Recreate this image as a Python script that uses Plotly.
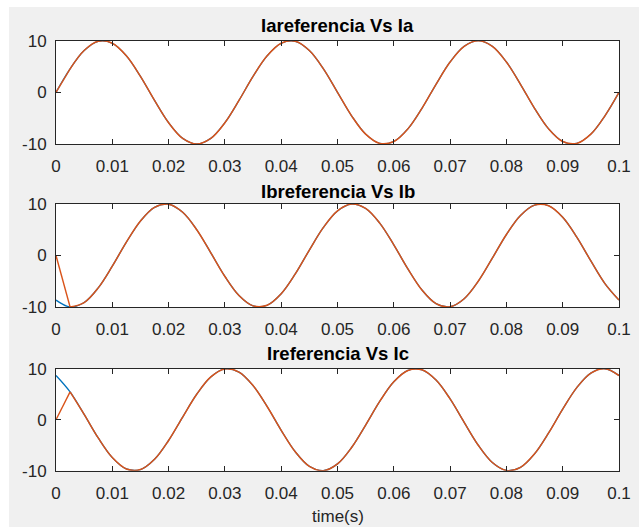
import plotly.graph_objects as go
from plotly.subplots import make_subplots

# Sample instants (s)
t = [0.0, 0.0025, 0.005, 0.0075, 0.01, 0.0125, 0.015, 0.0175, 0.02, 0.0225,
     0.025, 0.0275, 0.03, 0.0325, 0.035, 0.0375, 0.04, 0.0425, 0.045, 0.0475,
     0.05, 0.0525, 0.055, 0.0575, 0.06, 0.0625, 0.065, 0.0675, 0.07, 0.0725,
     0.075, 0.0775, 0.08, 0.0825, 0.085, 0.0875, 0.09, 0.0925, 0.095, 0.0975,
     0.1]

# Reference currents (A)
ia_ref = [0.00, 4.54, 8.09, 9.88, 9.51, 7.07, 3.09, -1.56, -5.88, -8.91,
          -10.00, -8.91, -5.88, -1.56, 3.09, 7.07, 9.51, 9.88, 8.09, 4.54,
          0.00, -4.54, -8.09, -9.88, -9.51, -7.07, -3.09, 1.56, 5.88, 8.91,
          10.00, 8.91, 5.88, 1.56, -3.09, -7.07, -9.51, -9.88, -8.09, -4.54,
          0.00]
ib_ref = [-8.66, -9.99, -9.14, -6.29, -2.08, 2.59, 6.69, 9.34, 9.95, 8.39,
          5.00, 0.52, -4.07, -7.77, -9.78, -9.66, -7.43, -3.58, 1.05, 5.45,
          8.66, 9.99, 9.14, 6.29, 2.08, -2.59, -6.69, -9.34, -9.95, -8.39,
          -5.00, -0.52, 4.07, 7.77, 9.78, 9.66, 7.43, 3.58, -1.05, -5.45,
          -8.66]
ic_ref = [8.66, 5.45, 1.05, -3.58, -7.43, -9.66, -9.78, -7.77, -4.07, 0.52,
          5.00, 8.39, 9.95, 9.34, 6.69, 2.59, -2.08, -6.29, -9.14, -9.99,
          -8.66, -5.45, -1.05, 3.58, 7.43, 9.66, 9.78, 7.77, 4.07, -0.52,
          -5.00, -8.39, -9.95, -9.34, -6.69, -2.59, 2.08, 6.29, 9.14, 9.99,
          8.66]

# Measured currents: start from zero, then track the reference
ia = [0.00] + ia_ref[1:]
ib = [0.00] + ib_ref[1:]
ic = [0.00] + ic_ref[1:]

titles = ["Iareferencia Vs Ia", "Ibreferencia Vs Ib", "Ireferencia Vs Ic"]
x_ticks = [0, 0.01, 0.02, 0.03, 0.04, 0.05, 0.06, 0.07, 0.08, 0.09, 0.1]
x_ticktext = ["0", "0.01", "0.02", "0.03", "0.04", "0.05", "0.06", "0.07",
              "0.08", "0.09", "0.1"]
y_ticks = [-10, 0, 10]
y_ticktext = ["-10", "0", "10"]

BLUE = "#0072BD"
ORANGE = "#D95319"
AXIS = "#262626"
FONT = "Liberation Sans, Arial, sans-serif"

W, H = 639, 527
ML, MR, MT, MB = 56, 20, 40, 56
PH = H - MT - MB
PW = W - ML - MR


def py(pix):
    """Pixel row -> paper y."""
    return 1 - (pix - MT) / PH


def px(pix):
    return (pix - ML) / PW


domains = [(py(144), py(40.7)), (py(307), py(204)), (py(470.7), py(368.7))]
title_shift = [15, 13, 15]

fig = make_subplots(rows=3, cols=1)

pairs = [(ia_ref, ia), (ib_ref, ib), (ic_ref, ic)]
for i, (ref, meas) in enumerate(pairs, start=1):
    fig.add_trace(go.Scatter(x=t, y=ref, mode="lines", line_shape="spline",
                             line=dict(color=BLUE, width=1.3),
                             showlegend=False, hoverinfo="skip"), row=i, col=1)
    # start-up segment of the measured current
    fig.add_trace(go.Scatter(x=t[:2], y=meas[:2], mode="lines",
                             line=dict(color=ORANGE, width=1.4),
                             showlegend=False, hoverinfo="skip"), row=i, col=1)
    fig.add_trace(go.Scatter(x=t[1:], y=meas[1:], mode="lines",
                             line_shape="spline",
                             line=dict(color=ORANGE, width=1.5),
                             showlegend=False, hoverinfo="skip"), row=i, col=1)

axis_common = dict(showline=True, linecolor=AXIS, linewidth=1, mirror="ticks",
                   ticks="inside", ticklen=5, tickcolor=AXIS, tickwidth=1,
                   showgrid=False, zeroline=False, automargin=False,
                   tickfont=dict(family=FONT, size=17, color=AXIS))

for i in range(1, 4):
    xa = "xaxis" if i == 1 else f"xaxis{i}"
    ya = "yaxis" if i == 1 else f"yaxis{i}"
    fig.layout[xa].update(range=[0, 0.1], tickvals=x_ticks,
                          ticktext=x_ticktext, domain=[0, 1],
                          ticklabelstandoff=7, **axis_common)
    fig.layout[ya].update(range=[-10, 10], tickvals=y_ticks,
                          ticktext=y_ticktext, ticklabelstandoff=5,
                          domain=list(domains[i - 1]), **axis_common)
    fig.add_annotation(text="<b>" + titles[i - 1] + "</b>", xref="paper",
                       yref="paper", x=0.5, y=domains[i - 1][1],
                       xanchor="center", yanchor="middle",
                       yshift=title_shift[i - 1], showarrow=False,
                       font=dict(family=FONT, size=18.5, color="#000000"))

# x-axis label of the bottom panel
fig.add_annotation(text="time(s)", xref="paper", yref="paper",
                   x=0.5, y=py(516), xanchor="center", yanchor="middle",
                   showarrow=False, font=dict(family=FONT, size=17, color=AXIS))

# white border strips at the left and top edge of the figure window
fig.add_shape(type="rect", xref="paper", yref="paper", layer="below",
              x0=px(0), x1=px(9), y0=py(H), y1=py(0),
              fillcolor="white", line_width=0)
fig.add_shape(type="rect", xref="paper", yref="paper", layer="below",
              x0=px(0), x1=px(W), y0=py(7), y1=py(0),
              fillcolor="white", line_width=0)

fig.update_layout(width=W, height=H,
                  margin=dict(l=ML, r=MR, t=MT, b=MB, autoexpand=False),
                  paper_bgcolor="#F0F0F0", plot_bgcolor="white",
                  font=dict(family=FONT, color=AXIS))

fig.write_html("out.html", config={"displayModeBar": False})
